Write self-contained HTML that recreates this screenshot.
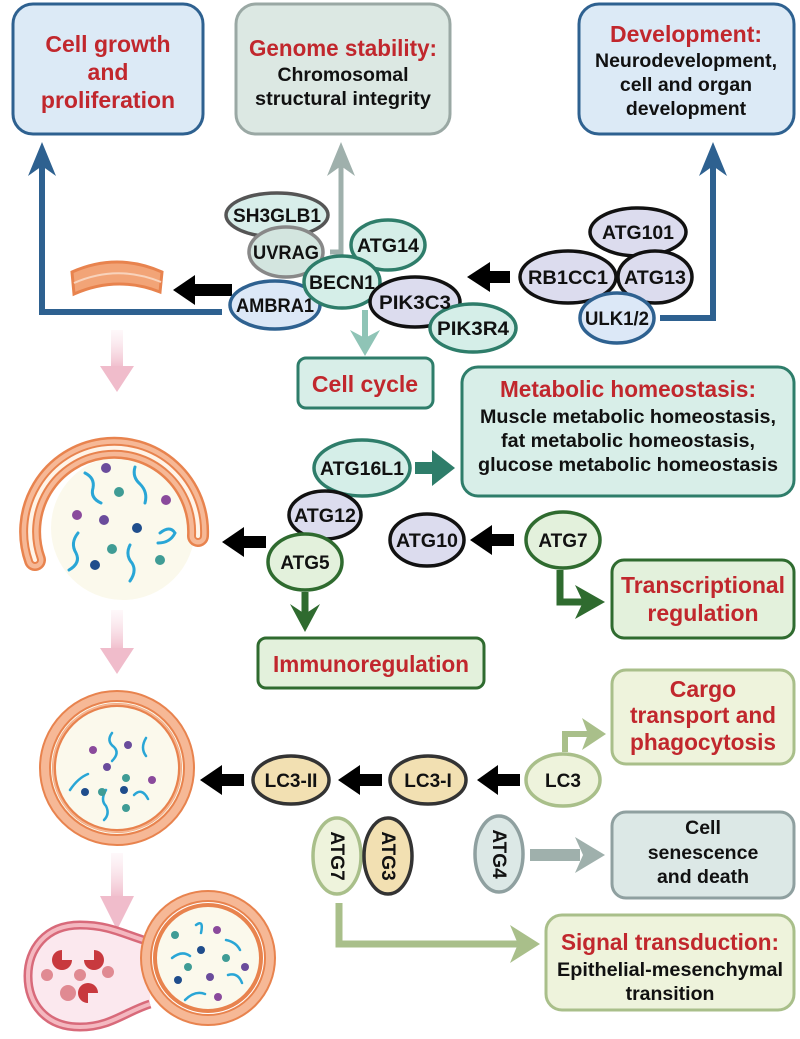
<!DOCTYPE html>
<html><head><meta charset="utf-8"><style>
html,body{margin:0;padding:0;background:#fff;}
svg{display:block;}
text{font-family:"Liberation Sans Narrow","Liberation Sans",sans-serif;font-weight:bold;text-anchor:middle;}
.t{fill:#c1272d;font-size:23px;}
.b{fill:#111;font-size:19.5px;}
.e{fill:#111;font-size:19px;}
</style></head><body>
<svg width="800" height="1039" viewBox="0 0 800 1039" xmlns="http://www.w3.org/2000/svg">
<defs>
<linearGradient id="pk" x1="0" y1="0" x2="0" y2="1"><stop offset="0" stop-color="#fbe8ee" stop-opacity="0.3"/><stop offset="1" stop-color="#f0bccb"/></linearGradient>
</defs>
<!-- top boxes -->
<rect x="13" y="4" width="190" height="130" rx="20" fill="#dceaf6" stroke="#2e6190" stroke-width="3"/>
<text class="t" x="108" y="52">Cell growth</text>
<text class="t" x="108" y="80">and</text>
<text class="t" x="108" y="108">proliferation</text>
<rect x="236" y="4" width="214" height="130" rx="20" fill="#dce8e3" stroke="#9aa8a4" stroke-width="3"/>
<text class="t" x="343" y="56" textLength="188" lengthAdjust="spacingAndGlyphs">Genome stability:</text>
<text class="b" x="343" y="81">Chromosomal</text>
<text class="b" x="343" y="105" textLength="176" lengthAdjust="spacingAndGlyphs">structural integrity</text>
<rect x="579" y="4" width="215" height="130" rx="20" fill="#dceaf6" stroke="#2e6190" stroke-width="3"/>
<text class="t" x="686" y="42">Development:</text>
<text class="b" x="686" y="67" textLength="182" lengthAdjust="spacingAndGlyphs">Neurodevelopment,</text>
<text class="b" x="686" y="91">cell and organ</text>
<text class="b" x="686" y="115">development</text>

<!-- blue/grey connectors -->
<polyline points="222,312 42,312 42,160" fill="none" stroke="#2e6190" stroke-width="6"/>
<polygon points="28,176 42,142 56,176 42,166" fill="#2e6190"/>
<polyline points="660,318 713,318 713,160" fill="none" stroke="#2e6190" stroke-width="6"/>
<polygon points="699,176 713,142 727,176 713,166" fill="#2e6190"/>
<polyline points="330,252 341,252 341,160" fill="none" stroke="#9fb0ac" stroke-width="5"/>
<polygon points="327,176 341,142 355,176 341,166" fill="#9fb0ac"/>
<!-- cell cycle arrow -->
<line x1="365" y1="310" x2="365" y2="340" stroke="#8fc4b6" stroke-width="6"/>
<polygon points="350,330 365,356 380,330 365,338" fill="#8fc4b6"/>

<!-- black arrows -->
<g fill="#000">
<polygon points="232,284 195,284 195,275 173,290 195,305 195,296 232,296"/>
<polygon points="510,271 490,271 490,262 467,277 490,292 490,283 510,283"/>
<polygon points="266,536 244,536 244,527 222,542 244,557 244,548 266,548"/>
<polygon points="514,534 492,534 492,525 470,540 492,555 492,546 514,546"/>
<polygon points="520,774 498,774 498,765 477,780 498,795 498,786 520,786"/>
<polygon points="382,774 360,774 360,765 338,780 360,795 360,786 382,786"/>
<polygon points="244,774 222,774 222,765 200,780 222,795 222,786 244,786"/>
</g>

<!-- orange arc -->
<path d="M72,272 Q117,252 162,272 L160,292 Q117,275 74,294 Z" fill="#f2a477" stroke="#e8834e" stroke-width="3"/>
<path d="M74,283 Q117,264 161,282" fill="none" stroke="#f8d3bc" stroke-width="2"/>

<!-- pink arrows -->
<rect x="111" y="330" width="12" height="38" fill="url(#pk)"/><polygon points="100,366 117,392 134,366" fill="#f0bccb"/>
<rect x="111" y="610" width="12" height="40" fill="url(#pk)"/><polygon points="100,648 117,674 134,648" fill="#f0bccb"/>
<rect x="111" y="853" width="12" height="45" fill="url(#pk)"/><polygon points="100,896 117,930 134,896" fill="#f0bccb"/>

<!-- phagophore -->
<circle cx="123" cy="528" r="72" fill="#fbf9ec"/>
<path d="M35,560 A84,84 0 1 1 198,536" fill="none" stroke="#e8834e" stroke-width="22" stroke-linecap="round"/>
<path d="M35,560 A84,84 0 1 1 198,536" fill="none" stroke="#f6b896" stroke-width="17" stroke-linecap="round"/>
<path d="M35,560 A84,84 0 1 1 198,536" fill="none" stroke="#e8834e" stroke-width="8" stroke-linecap="round"/>
<path d="M35,560 A84,84 0 1 1 198,536" fill="none" stroke="#fff4e8" stroke-width="4" stroke-linecap="round"/>
<g fill="none" stroke="#29a6d6" stroke-width="3" stroke-linecap="round">
<path d="M85,473 q10,5 8,15 q-3,10 8,15"/><path d="M135,467 q-3,10 5,17 q8,8 5,19"/>
<path d="M160,533 q10,-8 15,0 q-5,10 -17,10"/><path d="M78,533 q-8,10 -2,20 q5,10 -7,17"/>
<path d="M130,545 q-5,10 2,18 q5,8 -2,18"/>
</g>
<g>
<circle cx="106" cy="468" r="5" fill="#6a4c9c"/><circle cx="119" cy="492" r="5" fill="#3f9c95"/>
<circle cx="166" cy="500" r="5" fill="#8a4a9c"/><circle cx="77" cy="515" r="5" fill="#8a4a9c"/>
<circle cx="104" cy="520" r="5" fill="#6a4c9c"/><circle cx="137" cy="528" r="5" fill="#1f4d8c"/>
<circle cx="112" cy="549" r="5" fill="#3f9c95"/><circle cx="95" cy="565" r="5" fill="#1f4d8c"/>
<circle cx="160" cy="560" r="5" fill="#3f9c95"/>
</g>

<!-- mature autophagosome -->
<circle cx="117" cy="768" r="66" fill="#fbf9ec"/>
<circle cx="117" cy="768" r="72" fill="none" stroke="#e8834e" stroke-width="12"/>
<circle cx="117" cy="768" r="72" fill="none" stroke="#f6b896" stroke-width="8"/>
<circle cx="117" cy="768" r="63" fill="none" stroke="#e8834e" stroke-width="4"/>
<circle cx="117" cy="768" r="64" fill="none" stroke="#f6b896" stroke-width="1.5"/>
<g fill="none" stroke="#29a6d6" stroke-width="2.5" stroke-linecap="round">
<path d="M112,733 q-6,8 2,14 q6,6 -2,14"/><path d="M70,790 q8,-12 18,-16"/><path d="M106,790 q-6,10 0,16 q4,8 -2,14"/><path d="M134,795 q8,-8 14,4"/><path d="M146,738 q-6,10 0,18"/>
</g>
<circle cx="128" cy="745" r="4" fill="#6a4c9c"/><circle cx="93" cy="750" r="4" fill="#8a4a9c"/><circle cx="126" cy="778" r="4" fill="#3f9c95"/><circle cx="107" cy="767" r="4" fill="#6a4c9c"/><circle cx="152" cy="780" r="4" fill="#8a4a9c"/><circle cx="85" cy="792" r="4" fill="#1f4d8c"/><circle cx="124" cy="790" r="4" fill="#1f4d8c"/><circle cx="102" cy="792" r="4" fill="#3f9c95"/><circle cx="126" cy="808" r="4" fill="#3f9c95"/>

<!-- fusion -->
<path d="M150,942 C125,935 110,925 80,925 C45,925 28,950 28,976 C28,1003 45,1027 80,1027 C110,1027 125,1012 150,1004 Z" fill="#fbe8ee"/>
<path d="M150,942 C125,935 110,925 80,925 C45,925 28,950 28,976 C28,1003 45,1027 80,1027 C110,1027 125,1012 150,1004" fill="none" stroke="#d86a7a" stroke-width="9"/>
<path d="M150,942 C125,935 110,925 80,925 C45,925 28,950 28,976 C28,1003 45,1027 80,1027 C110,1027 125,1012 150,1004" fill="none" stroke="#f4b8c0" stroke-width="4"/>
<circle cx="208" cy="958" r="52" fill="#fbf9ec"/>
<circle cx="208" cy="958" r="62" fill="none" stroke="#e8834e" stroke-width="12"/>
<circle cx="208" cy="958" r="62" fill="none" stroke="#f6b896" stroke-width="8"/>
<circle cx="208" cy="958" r="53" fill="none" stroke="#e8834e" stroke-width="4"/>
<g fill="#c8393e">
<path d="M62,950 a10,10 0 1 0 10,10 l-10,0 z"/><path d="M94,950 a10,10 0 1 1 -10,10 l10,0 z"/><path d="M98,993 a10,10 0 1 0 -10,10 l0,-10 z"/>
</g>
<g fill="#e08a92"><circle cx="68" cy="993" r="8"/><circle cx="47" cy="975" r="6"/><circle cx="80" cy="975" r="6"/><circle cx="108" cy="972" r="6"/></g>
<g fill="none" stroke="#29a6d6" stroke-width="2.5" stroke-linecap="round"><path d="M196,925 q8,-6 5,8"/><path d="M172,958 q10,-8 18,-2"/><path d="M226,940 q10,2 14,10"/><path d="M228,975 q10,-3 14,8"/><path d="M185,1000 q10,-10 20,-6"/></g>
<circle cx="175" cy="935" r="4" fill="#3f9c95"/><circle cx="201" cy="950" r="4" fill="#1f4d8c"/><circle cx="217" cy="930" r="4" fill="#8a4a9c"/><circle cx="188" cy="967" r="4" fill="#3f9c95"/><circle cx="226" cy="958" r="4" fill="#3f9c95"/><circle cx="245" cy="967" r="4" fill="#6a4c9c"/><circle cx="178" cy="980" r="4" fill="#1f4d8c"/><circle cx="210" cy="977" r="4" fill="#6a4c9c"/><circle cx="218" cy="997" r="4" fill="#8a4a9c"/>

<!-- BECN1 complex -->
<g stroke-width="3.5">
<ellipse cx="277" cy="215" rx="51" ry="22" fill="#d8eeea" stroke="#555"/>
<ellipse cx="286" cy="252" rx="37" ry="25" fill="#d3e5df" stroke="#888"/>
<ellipse cx="388" cy="245" rx="37" ry="25" fill="#d5eee8" stroke="#2e7d6a"/>
<ellipse cx="275" cy="305" rx="45" ry="24" fill="#dce8f7" stroke="#2e6190"/>
<ellipse cx="342" cy="282" rx="38" ry="26" fill="#d5eee8" stroke="#2e7d6a"/>
<ellipse cx="415" cy="302" rx="45" ry="25" fill="#dcdcee" stroke="#111"/>
<ellipse cx="473" cy="328" rx="43" ry="24" fill="#d5eee8" stroke="#2e7d6a"/>
<ellipse cx="638" cy="232" rx="48" ry="24" fill="#dcdcee" stroke="#111"/>
<ellipse cx="568" cy="277" rx="48" ry="26" fill="#dcdcee" stroke="#111"/>
<ellipse cx="655" cy="277" rx="37" ry="26" fill="#dcdcee" stroke="#111"/>
<ellipse cx="617" cy="318" rx="37" ry="25" fill="#dce8f7" stroke="#2e6190"/>
</g>
<text class="e" x="277" y="222" textLength="88" lengthAdjust="spacingAndGlyphs">SH3GLB1</text>
<text class="e" x="286" y="259" textLength="66" lengthAdjust="spacingAndGlyphs">UVRAG</text>
<text class="e" x="388" y="252" textLength="62" lengthAdjust="spacingAndGlyphs">ATG14</text>
<text class="e" x="275" y="312" textLength="78" lengthAdjust="spacingAndGlyphs">AMBRA1</text>
<text class="e" x="342" y="289" textLength="66" lengthAdjust="spacingAndGlyphs">BECN1</text>
<text class="e" x="415" y="309" textLength="72" lengthAdjust="spacingAndGlyphs">PIK3C3</text>
<text class="e" x="473" y="335" textLength="72" lengthAdjust="spacingAndGlyphs">PIK3R4</text>
<text class="e" x="638" y="239" textLength="72" lengthAdjust="spacingAndGlyphs">ATG101</text>
<text class="e" x="568" y="284" textLength="80" lengthAdjust="spacingAndGlyphs">RB1CC1</text>
<text class="e" x="655" y="284" textLength="62" lengthAdjust="spacingAndGlyphs">ATG13</text>
<text class="e" x="617" y="325" textLength="64" lengthAdjust="spacingAndGlyphs">ULK1/2</text>

<!-- cell cycle box -->
<rect x="298" y="358" width="135" height="50" rx="8" fill="#d8eee8" stroke="#2e7d6a" stroke-width="3"/>
<text class="t" x="365" y="392">Cell cycle</text>

<!-- metabolic -->
<rect x="462" y="367" width="332" height="129" rx="16" fill="#d8eee8" stroke="#2e7d6a" stroke-width="3"/>
<text class="t" x="628" y="397" textLength="256" lengthAdjust="spacingAndGlyphs">Metabolic homeostasis:</text>
<text class="b" x="628" y="423" textLength="296" lengthAdjust="spacingAndGlyphs">Muscle metabolic homeostasis,</text>
<text class="b" x="628" y="447" textLength="254" lengthAdjust="spacingAndGlyphs">fat metabolic homeostasis,</text>
<text class="b" x="628" y="471" textLength="300" lengthAdjust="spacingAndGlyphs">glucose metabolic homeostasis</text>
<rect x="415" y="462" width="22" height="12" fill="#2e7d6a"/><polygon points="432,450 455,468 432,486" fill="#2e7d6a"/>

<g stroke-width="3.5">
<ellipse cx="362" cy="468" rx="48" ry="28" fill="#d5eee8" stroke="#2e7d6a"/>
<ellipse cx="325" cy="515" rx="36" ry="24" fill="#dcdcee" stroke="#111"/>
<ellipse cx="305" cy="562" rx="37" ry="28" fill="#e3f1dc" stroke="#2f6b2f"/>
<ellipse cx="427" cy="540" rx="37" ry="26" fill="#dcdcee" stroke="#111"/>
<ellipse cx="563" cy="540" rx="37" ry="28" fill="#e3f1dc" stroke="#2f6b2f"/>
</g>
<text class="e" x="362" y="475" textLength="84" lengthAdjust="spacingAndGlyphs">ATG16L1</text>
<text class="e" x="325" y="522" textLength="62" lengthAdjust="spacingAndGlyphs">ATG12</text>
<text class="e" x="305" y="569">ATG5</text>
<text class="e" x="427" y="547" textLength="62" lengthAdjust="spacingAndGlyphs">ATG10</text>
<text class="e" x="563" y="547">ATG7</text>

<!-- green arrows -->
<line x1="305" y1="592" x2="305" y2="615" stroke="#2f6b2f" stroke-width="7"/>
<polygon points="290,604 305,632 320,604 305,614" fill="#2f6b2f"/>
<polyline points="560,570 560,602 585,602" fill="none" stroke="#2f6b2f" stroke-width="7"/>
<polygon points="575,585 605,602 575,619 583,602" fill="#2f6b2f"/>
<rect x="612" y="560" width="182" height="78" rx="12" fill="#e3f1dc" stroke="#2f6b2f" stroke-width="3"/>
<text class="t" x="703" y="593" textLength="164" lengthAdjust="spacingAndGlyphs">Transcriptional</text>
<text class="t" x="703" y="621">regulation</text>
<rect x="258" y="638" width="226" height="50" rx="8" fill="#e3f1dc" stroke="#2f6b2f" stroke-width="3"/>
<text class="t" x="371" y="672" textLength="196" lengthAdjust="spacingAndGlyphs">Immunoregulation</text>

<!-- cargo -->
<rect x="612" y="670" width="182" height="94" rx="14" fill="#eef3dc" stroke="#a9bf8a" stroke-width="3"/>
<text class="t" x="703" y="697">Cargo</text>
<text class="t" x="703" y="723" textLength="146" lengthAdjust="spacingAndGlyphs">transport and</text>
<text class="t" x="703" y="750" textLength="146" lengthAdjust="spacingAndGlyphs">phagocytosis</text>
<polyline points="565,752 565,734 590,734" fill="none" stroke="#a9bf8a" stroke-width="6"/>
<polygon points="582,718 606,734 582,750 588,734" fill="#a9bf8a"/>

<g stroke-width="3.5">
<ellipse cx="563" cy="780" rx="37" ry="26" fill="#eef3dc" stroke="#a9bf8a"/>
<ellipse cx="428" cy="780" rx="38" ry="24" fill="#f2e0b2" stroke="#333"/>
<ellipse cx="291" cy="780" rx="38" ry="24" fill="#f2e0b2" stroke="#333"/>
<ellipse cx="337" cy="856" rx="24" ry="38" fill="#eef3dc" stroke="#a9bf8a"/>
<ellipse cx="388" cy="856" rx="24" ry="38" fill="#f2e0b2" stroke="#333"/>
<ellipse cx="499" cy="854" rx="24" ry="38" fill="#dce8e6" stroke="#8fa0a0"/>
</g>
<text class="e" x="563" y="787">LC3</text>
<text class="e" x="428" y="787">LC3-I</text>
<text class="e" x="291" y="787">LC3-II</text>
<text class="e" transform="translate(331,856) rotate(90)">ATG7</text>
<text class="e" transform="translate(382,856) rotate(90)">ATG3</text>
<text class="e" transform="translate(493,854) rotate(90)">ATG4</text>

<!-- senescence -->
<rect x="530" y="849" width="50" height="12" fill="#9fb0ac"/><polygon points="575,837 605,855 575,873 583,855" fill="#9fb0ac"/>
<rect x="612" y="812" width="182" height="86" rx="14" fill="#dce8e6" stroke="#8fa0a0" stroke-width="3"/>
<text class="b" x="703" y="834">Cell</text>
<text class="b" x="703" y="859">senescence</text>
<text class="b" x="703" y="883">and death</text>

<!-- signal -->
<polyline points="339,903 339,944 520,944" fill="none" stroke="#a9bf8a" stroke-width="7"/>
<polygon points="510,925 540,944 510,963 518,944" fill="#a9bf8a"/>
<rect x="546" y="915" width="248" height="95" rx="16" fill="#eef3dc" stroke="#a9bf8a" stroke-width="3"/>
<text class="t" x="670" y="950" textLength="218" lengthAdjust="spacingAndGlyphs">Signal transduction:</text>
<text class="b" x="670" y="976" textLength="226" lengthAdjust="spacingAndGlyphs">Epithelial-mesenchymal</text>
<text class="b" x="670" y="1000">transition</text>
</svg>
</body></html>
